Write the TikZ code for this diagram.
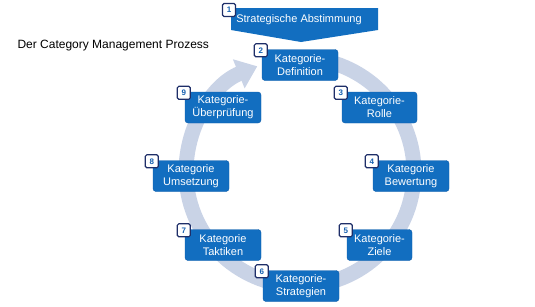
\documentclass[tikz,border=0pt]{standalone}
\usepackage{fontspec}
\setmainfont{Liberation Sans}
\usetikzlibrary{arrows.meta}
\definecolor{kblue}{RGB}{18,110,192}
\definecolor{kedge}{RGB}{12,92,170}
\definecolor{ringgray}{RGB}{201,211,230}
\definecolor{navy}{RGB}{30,46,104}
\definecolor{numblue}{RGB}{22,96,176}
\begin{document}
\begin{tikzpicture}[
  x=1pt, y=-1pt,
  stepbox/.style = {draw=kedge, fill=kblue, rounded corners=3pt, text=white,
                    minimum width=76pt, minimum height=31pt, inner sep=1pt,
                    font=\fontsize{11}{13}\selectfont, align=center},
  badge/.style   = {draw=navy, fill=white, line width=1.2pt, rounded corners=1.5pt,
                    minimum size=13pt, inner sep=0pt, text=numblue,
                    font=\fontsize{8}{8}\selectfont\bfseries},
  ring/.style    = {line width=15pt, draw=ringgray}
]
  \useasboundingbox (0,0) rectangle (535,306);

  % Titel
  \node[anchor=west, font=\fontsize{12}{14}\selectfont] (T) at (14,46)
        {Der Category Management Prozess};

  % Kreislauf
  \coordinate (M) at (300,172);
  \draw[ring, -{Triangle[width=30pt,length=20pt]}] (M) ++(95:114pt)
        arc[start angle=95, end angle=-248, radius=114pt];

  % Schritt 1
  \fill[kblue] (231,8) -- (378,8) -- (378,30) -- (301,42) -- (231,30) -- cycle;
  \node[text=white, font=\fontsize{11}{13}\selectfont] (B1) at (299,20)
        {Strategische Abstimmung};
  \node[badge] (N1) at (229,10) {1};

  % Schritte im Uhrzeigersinn
  \node[stepbox] (B2) at (300,65)                       {Kategorie-\\Definition};
  \node[stepbox, minimum width=75pt] (B3) at (379.5,107.5) {Kategorie-\\Rolle};
  \node[stepbox] (B4) at (411,176)                      {Kategorie\\Bewertung};
  \node[stepbox, minimum width=65pt] (B5) at (379.5,245)   {Kategorie-\\Ziele};
  \node[stepbox] (B6) at (301,286)                      {Kategorie-\\Strategien};
  \node[stepbox] (B7) at (223,245)                      {Kategorie\\Taktiken};
  \node[stepbox] (B8) at (191,176)                      {Kategorie\\Umsetzung};
  \node[stepbox] (B9) at (223,107.5)                    {Kategorie-\\Überprüfung};

  % Nummern
  \node[badge] (N2) at ([xshift=-1pt,yshift=-1pt]B2.north west) {2};
  \node[badge] (N3) at ([xshift=-1pt,yshift=-1pt]B3.north west) {3};
  \node[badge] (N4) at ([xshift=-1pt,yshift=-1pt]B4.north west) {4};
  \node[badge] (N5) at ([xshift=-1pt,yshift=-1pt]B5.north west) {5};
  \node[badge] (N6) at ([xshift=-1pt,yshift=-1pt]B6.north west) {6};
  \node[badge] (N7) at ([xshift=-1pt,yshift=-1pt]B7.north west) {7};
  \node[badge] (N8) at ([xshift=-1pt,yshift=-1pt]B8.north west) {8};
  \node[badge] (N9) at ([xshift=-1pt,yshift=-1pt]B9.north west) {9};
\end{tikzpicture}
\end{document}
